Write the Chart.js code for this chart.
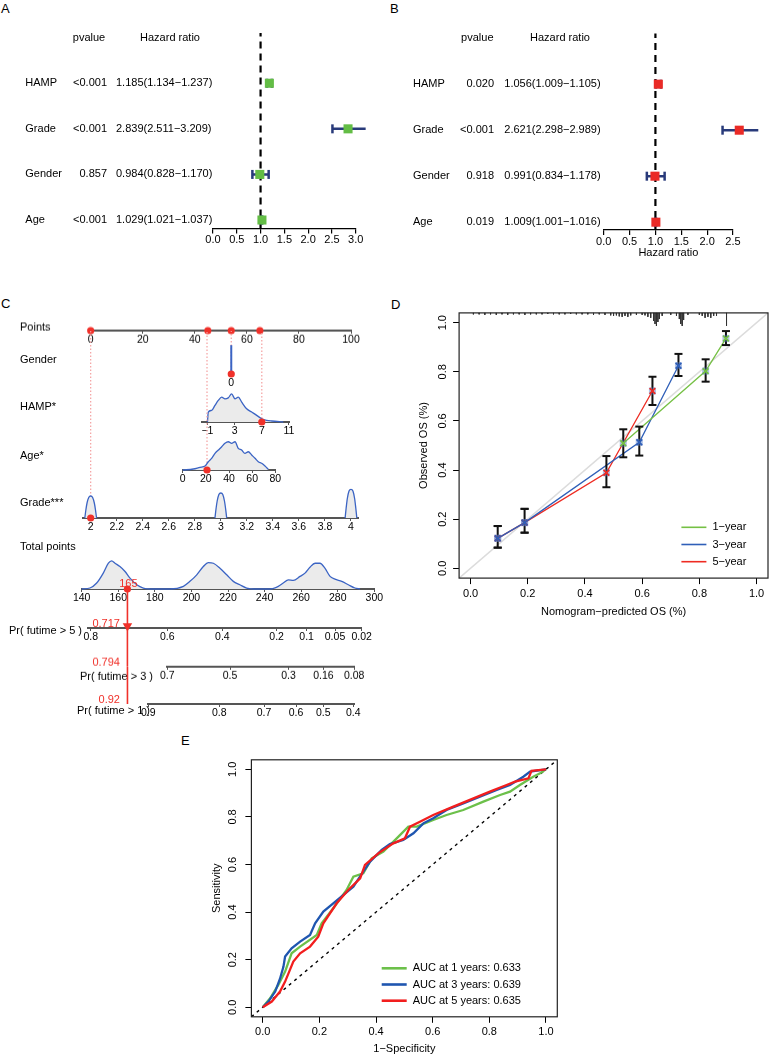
<!DOCTYPE html>
<html>
<head>
<meta charset="utf-8">
<script src="https://cdn.jsdelivr.net/npm/chart.js@4.4.1/dist/chart.umd.min.js"></script>
<style>
  html, body { margin: 0; background: #fff; }
  #fig { position: relative; width: 774px; height: 1056px; overflow: hidden; font-family: 'Liberation Sans', Arial, sans-serif; }
  #fig canvas { position: absolute; }
  .tag { position: absolute; font-size: 13px; line-height: 1; }
</style>
</head>
<body>
<div id="fig">
  <div class="tag" style="left:1px;top:2px">A</div>
  <div class="tag" style="left:390px;top:2px">B</div>
  <div class="tag" style="left:1px;top:297px">C</div>
  <div class="tag" style="left:391px;top:298px">D</div>
  <div class="tag" style="left:181px;top:734px">E</div>
</div>
<script>
// ---------- data ----------
// A: univariate Cox
const forestVars = ['HAMP', 'Grade', 'Gender', 'Age'];
const uniP = ['<0.001', '<0.001', '0.857', '<0.001'];
const uniHR = [1.185, 2.839, 0.984, 1.029];
const uniLow = [1.134, 2.511, 0.828, 1.021];
const uniHigh = [1.237, 3.209, 1.170, 1.037];
const uniTicks = [0, 0.5, 1, 1.5, 2, 2.5, 3];
// B: multivariate Cox
const multiP = ['0.020', '<0.001', '0.918', '0.019'];
const multiHR = [1.056, 2.621, 0.991, 1.009];
const multiLow = [1.009, 2.298, 0.834, 1.001];
const multiHigh = [1.105, 2.989, 1.178, 1.016];
const multiTicks = [0, 0.5, 1, 1.5, 2, 2.5];

// C: nomogram
const pointsTicks = [0, 20, 40, 60, 80, 100];
const patientPoints = [0, 45, 54, 65];      // Grade, Age, Gender, HAMP of the example patient
const genderPoints = 54;
const genderLevels = ['0'];
const genderSpike = 29;
const hampTicks = [-1, 3, 7, 11];
const hampDensX = [-1, -0.88, -0.38, 0.1, 0.59, 1.09, 1.58, 2.06, 2.56, 3.05, 3.54, 4.04, 4.77, 5.51, 6.25, 6.98, 7.72, 8.45, 10.16];
const hampDensY = [0, 10, 11.7, 16.7, 21.7, 25, 23.3, 24.3, 28.3, 23.3, 25, 20, 13.3, 10, 6.7, 3.3, 1.7, 1, 0];
const hampPatient = 7;
const ageTicks = [0, 20, 40, 60, 80];
const ageDensX = [0, 9.2, 14.9, 19.3, 22.1, 25, 27.9, 30.8, 33.7, 36.5, 39.4, 42.3, 45.2, 48, 50.9, 53.8, 56.7, 59.6, 62.5, 65.3, 68.2, 71.1, 74];
const ageDensY = [0, 1, 2.7, 4, 8.3, 11.7, 16.7, 20, 23.3, 26.7, 28.3, 26.7, 28.3, 21.7, 20, 16.7, 18.3, 15, 11.7, 8.3, 6.7, 4, 0.7];
const agePatient = 21;
const gradeTicks = [2, 2.2, 2.4, 2.6, 2.8, 3, 3.2, 3.4, 3.6, 3.8, 4];
const gradeDensX = [1.955, 1.963, 1.972, 1.985, 2, 2.015, 2.028, 2.037, 2.045, 2.5,
                    2.955, 2.963, 2.972, 2.985, 3, 3.015, 3.028, 3.037, 3.045, 3.5,
                    3.955, 3.963, 3.972, 3.985, 4, 4.015, 4.028, 4.037, 4.045];
const gradeDensY = [0, 8, 15, 20.5, 22, 20.5, 15, 8, 0, null,
                    0, 9, 17, 23.5, 25, 23.5, 17, 9, 0, null,
                    0, 10, 19.5, 27, 28.7, 27, 19.5, 10, 0];
const gradePatient = 2;
const totalTicks = [140, 160, 180, 200, 220, 240, 260, 280, 300];
const totalDensX = [140, 144.5, 148.2, 151.8, 154.6, 156.4, 158.2, 160.9, 163.7, 166.4, 170.1, 173.7, 179.2, 188.3,
                    195.6, 199.2, 202.9, 206.5, 209.2, 212, 215.6, 219.3, 222.9, 226.5, 230.2, 235.7, 243,
                    247.5, 250.2, 253, 255.7, 259.4, 262.1, 264.8, 267.6, 270.3, 273, 275.8, 278.5, 282.2, 285.8, 289.4, 292.2];
const totalDensY = [0, 1, 6, 16, 26, 28.3, 26, 22.7, 17.7, 11, 4.3, 1, 0, 0,
                    2.7, 7.7, 14.3, 22.7, 26.7, 26, 21, 14.3, 7.7, 4.3, 1, 0, 0,
                    2.7, 6, 9.3, 8.7, 12.7, 16, 22, 26, 26, 21, 12.7, 10, 7.7, 4.3, 1, 0];
const totalPatient = 165;
// survival probability scales, tick positions in total points
const pr5Ticks = [144.9, 186.8, 216.9, 246.6, 263, 278.5, 293.1];
const pr5Labels = ['0.8', '0.6', '0.4', '0.2', '0.1', '0.05', '0.02'];
const pr3Ticks = [186.8, 221.1, 253, 272.1, 288.9];
const pr3Labels = ['0.7', '0.5', '0.3', '0.16', '0.08'];
const pr1Ticks = [176.4, 215.2, 239.7, 257.2, 272.1, 288.5];
const pr1Labels = ['0.9', '0.8', '0.7', '0.6', '0.5', '0.4'];
const survPred = ['0.717', '0.794', '0.92'];   // 5, 3, 1 year

// D: calibration
const calTicks = [0, 0.2, 0.4, 0.6, 0.8, 1];
const cal1X = [0.534, 0.822, 0.893];
const cal1Y = [0.509, 0.803, 0.936];
const cal1Lo = [0.452, 0.76, 0.909];
const cal1Hi = [0.566, 0.851, 0.966];
const cal3X = [0.095, 0.189, 0.59, 0.727];
const cal3Y = [0.122, 0.186, 0.513, 0.825];
const cal3Lo = [0.084, 0.145, 0.459, 0.783];
const cal3Hi = [0.172, 0.242, 0.577, 0.873];
const cal5X = [0.095, 0.189, 0.475, 0.636];
const cal5Y = [0.122, 0.186, 0.389, 0.722];
const cal5Lo = [0.084, 0.145, 0.33, 0.665];
const cal5Hi = [0.172, 0.242, 0.457, 0.78];
const rugX = [0.01, 0.03, 0.05, 0.07, 0.09, 0.11, 0.13, 0.15, 0.17, 0.19, 0.21, 0.23, 0.25, 0.27, 0.29, 0.31, 0.33, 0.35, 0.37, 0.39, 0.41, 0.43, 0.45, 0.47, 0.49,
              0.5, 0.51, 0.52, 0.53, 0.54, 0.55, 0.56,
              0.58, 0.6, 0.61, 0.62, 0.63, 0.64, 0.645, 0.65, 0.655, 0.66, 0.67,
              0.7, 0.72, 0.73, 0.735, 0.74, 0.745, 0.76,
              0.8, 0.81, 0.82, 0.83, 0.84, 0.85, 0.86, 0.895];
const rugH = [0.006, 0.006, 0.008, 0.006, 0.008, 0.006, 0.008, 0.006, 0.006, 0.008, 0.006, 0.006, 0.006, 0.004, 0.006, 0.006, 0.006, 0.004, 0.006, 0.006, 0.006, 0.008, 0.006, 0.008, 0.010,
              0.012, 0.010, 0.014, 0.016, 0.012, 0.016, 0.010,
              0.008, 0.008, 0.010, 0.016, 0.020, 0.033, 0.045, 0.053, 0.037, 0.025, 0.012,
              0.008, 0.012, 0.025, 0.045, 0.053, 0.029, 0.008,
              0.008, 0.012, 0.020, 0.016, 0.020, 0.012, 0.012, 0.053];

// E: time-dependent ROC
const rocTicks = [0, 0.2, 0.4, 0.6, 0.8, 1];
const roc1Fpr = [0, 0.026, 0.055, 0.079, 0.102, 0.132, 0.191, 0.208, 0.249, 0.296, 0.32, 0.355, 0.385, 0.426, 0.473, 0.514, 0.544, 0.602, 0.649, 0.708, 0.779, 0.838, 0.873, 0.908, 0.955, 0.979, 1];
const roc1Tpr = [0, 0.038, 0.094, 0.15, 0.227, 0.255, 0.304, 0.353, 0.416, 0.493, 0.549, 0.563, 0.626, 0.654, 0.71, 0.759, 0.759, 0.787, 0.808, 0.829, 0.864, 0.892, 0.906, 0.934, 0.969, 0.983, 1];
const roc3Fpr = [0, 0.02, 0.044, 0.061, 0.073, 0.079, 0.102, 0.132, 0.167, 0.185, 0.214, 0.249, 0.285, 0.32, 0.355, 0.379, 0.42, 0.449, 0.496, 0.532, 0.567, 0.602, 0.649, 0.708, 0.767, 0.826, 0.873, 0.92, 0.944, 1];
const roc3Tpr = [0, 0.024, 0.066, 0.12, 0.17, 0.213, 0.248, 0.276, 0.304, 0.353, 0.402, 0.437, 0.472, 0.507, 0.57, 0.612, 0.661, 0.686, 0.703, 0.731, 0.773, 0.794, 0.829, 0.857, 0.885, 0.913, 0.934, 0.969, 0.99, 1];
const roc5Fpr = [0, 0.032, 0.061, 0.079, 0.096, 0.108, 0.132, 0.167, 0.196, 0.214, 0.261, 0.302, 0.344, 0.361, 0.408, 0.461, 0.502, 0.52, 0.555, 0.602, 0.673, 0.744, 0.802, 0.861, 0.891, 0.938, 0.949, 1];
const roc5Tpr = [0, 0.024, 0.066, 0.108, 0.157, 0.192, 0.227, 0.255, 0.297, 0.353, 0.437, 0.493, 0.542, 0.598, 0.647, 0.689, 0.71, 0.759, 0.78, 0.808, 0.843, 0.878, 0.906, 0.934, 0.948, 0.962, 0.994, 1];
const rocAUC = ['0.633', '0.639', '0.635'];

// ---------- helpers ----------
const FONT = "'Liberation Sans', Arial, sans-serif";
Chart.defaults.font.family = FONT;
Chart.defaults.font.size = 11;
Chart.defaults.color = '#000';

const NAVY = '#283a7a';
const RED = '#f0312a';
const BLUE = '#3b64c4';

const baseOptions = {
  responsive: false,
  animation: false,
  events: [],
  plugins: { legend: { display: false }, tooltip: { enabled: false } }
};

function addCanvas(x, y, w, h) {
  const c = document.createElement('canvas');
  c.width = w; c.height = h;
  c.style.left = x + 'px'; c.style.top = y + 'px';
  c.style.width = w + 'px'; c.style.height = h + 'px';
  document.getElementById('fig').appendChild(c);
  return c;
}

const pts = (xs, ys) => xs.map((x, i) => ({ x: x, y: ys[i] }));

// text drawn at canvas px or at data values through the chart scales
function textLayer(items) {
  return {
    id: 'textLayer',
    afterDraw(chart) {
      const ctx = chart.ctx;
      ctx.save();
      ctx.textBaseline = 'middle';
      items.forEach(t => {
        ctx.font = (t.size || 11) + 'px ' + FONT;
        ctx.fillStyle = t.color || '#000';
        ctx.textAlign = t.align || 'left';
        const x = t.xv !== undefined ? chart.scales.x.getPixelForValue(t.xv) + (t.dx || 0) : t.x;
        const y = t.yv !== undefined ? chart.scales.y.getPixelForValue(t.yv) + (t.dy || 0) : t.y;
        ctx.fillText(t.text, x, y);
      });
      ctx.restore();
    }
  };
}

// frame around plot region + line legend (R style)
function boxLegend(items, o) {
  return {
    id: 'boxLegend',
    afterDraw(chart) {
      const { ctx, chartArea: a } = chart;
      ctx.save();
      ctx.strokeStyle = '#222';
      ctx.lineWidth = 1.2;
      ctx.strokeRect(a.left, a.top, a.right - a.left, a.bottom - a.top);
      ctx.font = '11px ' + FONT;
      ctx.textAlign = 'left';
      ctx.textBaseline = 'middle';
      items.forEach((it, i) => {
        const y = a.bottom - o.fromBottom + i * o.gap;
        const x0 = a.right - o.fromRight;
        ctx.strokeStyle = it.color;
        ctx.lineWidth = o.lw;
        ctx.beginPath(); ctx.moveTo(x0, y); ctx.lineTo(x0 + 25, y); ctx.stroke();
        ctx.fillStyle = '#000';
        ctx.fillText(it.text, x0 + 31, y);
      });
      ctx.restore();
    }
  };
}

const fmtHR = (h, l, u) => h.toFixed(3) + '(' + l.toFixed(3) + '\u2212' + u.toFixed(3) + ')';

// ---------- A / B forest plots ----------
function forest(o) {
  const rows = forestVars.map((v, i) => forestVars.length - i);
  const whisker = [], caps = [], boxes = [];
  rows.forEach((r, i) => {
    whisker.push({ x: o.low[i], y: r }, { x: o.high[i], y: r }, { x: o.high[i], y: null });
    caps.push({ x: o.low[i], y: r }, { x: o.high[i], y: r });
    boxes.push({ x: o.hr[i], y: r });
  });
  const texts = [
    { text: 'pvalue', x: o.pHead, yv: 5, align: 'center' },
    { text: 'Hazard ratio', x: o.hrHead, yv: 5, align: 'center' }
  ];
  rows.forEach((r, i) => {
    texts.push({ text: forestVars[i], x: o.nameX, yv: r });
    texts.push({ text: o.p[i], x: o.pX, yv: r, align: 'right' });
    texts.push({ text: fmtHR(o.hr[i], o.low[i], o.high[i]), x: o.hrX, yv: r });
  });
  const canvas = addCanvas(o.x, 0, o.w, o.h);
  return new Chart(canvas, {
    type: 'scatter',
    data: {
      datasets: [
        { data: boxes, pointStyle: 'rect', pointRadius: 6.4, backgroundColor: o.color, borderWidth: 0, clip: false },
        { data: caps, pointStyle: 'line', rotation: 90, pointRadius: 4.5, borderColor: NAVY, borderWidth: 2.5, clip: false },
        { data: whisker, showLine: true, pointRadius: 0, borderColor: NAVY, borderWidth: 2.5, clip: false },
        { data: [{ x: 1, y: o.yMin }, { x: 1, y: o.yMax }], showLine: true, pointRadius: 0,
          borderColor: '#000', borderWidth: 2.2, borderDash: [7, 5], clip: false }
      ]
    },
    options: Object.assign({}, baseOptions, {
      layout: { padding: o.pad },
      scales: {
        x: {
          type: 'linear', min: 0, max: o.ticks[o.ticks.length - 1],
          afterBuildTicks: s => { s.ticks = o.ticks.map(v => ({ value: v })); },
          afterFit: s => { s.height = o.xH; },
          ticks: { autoSkip: false, maxRotation: 0, padding: 0, callback: v => v.toFixed(1) },
          grid: { drawOnChartArea: false, tickLength: 5, color: '#000', lineWidth: 1.2 },
          border: { color: '#000', width: 1.2 },
          title: { display: !!o.xTitle, text: o.xTitle || '', padding: { top: 0, bottom: 0 } }
        },
        y: { display: false, min: o.yMin, max: o.yMax }
      }
    }),
    plugins: [textLayer(texts)]
  });
}

forest({
  x: 0, w: 385, h: 260, xH: 20,
  pad: { left: 213, right: 29.3, top: 33.1, bottom: 11.5 },
  yMin: 0.814, yMax: 5.1, ticks: uniTicks,
  hr: uniHR, low: uniLow, high: uniHigh, p: uniP, color: '#63bd45',
  nameX: 25.3, pX: 107, hrX: 116, pHead: 89, hrHead: 170
});

forest({
  x: 385, w: 389, h: 270, xH: 30, xTitle: 'Hazard ratio',
  pad: { left: 218.7, right: 41, top: 33.6, bottom: 10 },
  yMin: 0.83, yMax: 5.1, ticks: multiTicks,
  hr: multiHR, low: multiLow, high: multiHigh, p: multiP, color: '#ea2a26',
  nameX: 28, pX: 109, hrX: 119.3, pHead: 92.3, hrHead: 175
});

// ---------- C nomogram ----------
const NOMO_W = 385;
function nomoRow(o) {
  const padTop = 16, axisH = 18, padBottom = 2;
  const top = o.topY - padTop;
  const h = (o.axisY - o.topY) + padTop + axisH + padBottom;
  const canvas = addCanvas(0, top, NOMO_W, h);
  const texts = (o.texts || []).map(t => Object.assign({}, t, t.y !== undefined ? { y: t.y - top } : {}));
  o.datasets.forEach(d => { d.clip = false; });
  return new Chart(canvas, {
    type: 'scatter',
    data: { datasets: o.datasets },
    options: Object.assign({}, baseOptions, {
      layout: { padding: { left: o.left, right: NOMO_W - o.right, top: padTop, bottom: padBottom } },
      scales: {
        x: {
          type: 'linear', min: o.min, max: o.max,
          afterBuildTicks: s => { s.ticks = o.ticks.map(v => ({ value: v })); },
          afterFit: s => { s.height = axisH; },
          ticks: { autoSkip: false, maxRotation: 0, padding: 0, font: { size: 10.5 },
                   callback: (v, i) => o.labels[i] },
          grid: { drawOnChartArea: false, tickLength: 3, color: o.border === false ? 'rgba(0,0,0,0)' : '#555', lineWidth: 1 },
          border: { display: o.border !== false, color: '#555', width: 2 }
        },
        y: { display: false, min: 0, max: o.axisY - o.topY }
      }
    }),
    plugins: [textLayer(texts)]
  });
}

const redDots = xs => ({ data: xs.map(x => ({ x: x, y: 0 })), pointRadius: 3.6, backgroundColor: RED, borderWidth: 0 });
const dotted = (x, yTop) => ({ data: [{ x: x, y: 0 }, { x: x, y: yTop }], showLine: true, pointRadius: 0,
                               borderColor: '#f4a0a0', borderWidth: 1.2, borderDash: [1.5, 2] });
const density = (xs, ys) => ({ data: pts(xs, ys), showLine: true, pointRadius: 0, borderColor: BLUE, borderWidth: 1.3,
                               fill: 'origin', backgroundColor: '#ebebeb', cubicInterpolationMode: 'monotone' });
const arrow = (x, yTop) => [
  { data: [{ x: x, y: 2 }], pointStyle: 'triangle', rotation: 180, pointRadius: 5.5, backgroundColor: RED, borderWidth: 0 },
  { data: [{ x: x, y: 0 }, { x: x, y: yTop }], showLine: true, pointRadius: 0, borderColor: RED, borderWidth: 1.6 }
];

// Points
nomoRow({ left: 90.7, right: 351, axisY: 330.7, topY: 318, min: 0, max: 100,
  ticks: pointsTicks, labels: pointsTicks.map(String),
  datasets: [redDots(patientPoints)],
  texts: [{ text: 'Points', x: 20, y: 327 }] });

// Gender
nomoRow({ left: 90.7, right: 351, axisY: 374, topY: 330.7, min: 0, max: 100, border: false,
  ticks: [genderPoints], labels: genderLevels,
  datasets: [redDots([genderPoints]),
    { data: [{ x: genderPoints, y: 0 }, { x: genderPoints, y: genderSpike }], showLine: true, pointRadius: 0,
      borderColor: BLUE, borderWidth: 2 },
    dotted(genderPoints, 374 - 330.7)],
  texts: [{ text: 'Gender', x: 20, y: 359.3 }] });

// HAMP*
nomoRow({ left: 201.7, right: 289.3, axisY: 422.3, topY: 330.7, min: -1.85, max: 11.05,
  ticks: hampTicks, labels: hampTicks.map(v => v < 0 ? '\u2212' + Math.abs(v) : String(v)),
  datasets: [redDots([hampPatient]), density(hampDensX, hampDensY), dotted(hampPatient, 422.3 - 330.7)],
  texts: [{ text: 'HAMP*', x: 20, y: 406.7 }] });

// Age*
nomoRow({ left: 182.7, right: 275.3, axisY: 470, topY: 330.7, min: 0, max: 80,
  ticks: ageTicks, labels: ageTicks.map(String),
  datasets: [redDots([agePatient]), density(ageDensX, ageDensY), dotted(agePatient, 470 - 330.7)],
  texts: [{ text: 'Age*', x: 20, y: 455.7 }] });

// Grade***
nomoRow({ left: 83, right: 358, axisY: 517.7, topY: 330.7, min: 1.941, max: 4.054,
  ticks: gradeTicks, labels: gradeTicks.map(v => String(v)),
  datasets: [redDots([gradePatient]), density(gradeDensX, gradeDensY), dotted(gradePatient, 517.7 - 330.7)],
  texts: [{ text: 'Grade***', x: 20, y: 502.3 }] });

// Total points
nomoRow({ left: 81.7, right: 374.3, axisY: 589.3, topY: 555, min: 140, max: 300,
  ticks: totalTicks, labels: totalTicks.map(String),
  datasets: [redDots([totalPatient]), density(totalDensX, totalDensY)],
  texts: [{ text: 'Total points', x: 20, y: 546.7 },
          { text: String(totalPatient), xv: totalPatient, dx: 1, yv: 0, dy: -5, align: 'center', color: RED }] });

// survival probabilities
const prRows = [
  { name: 'Pr( futime > 5 )', nameX: 82, nameY: 631.7, left: 88.3, right: 361.7, axisY: 628.3, topY: 589.3, min: 143.6, max: 293.1, ticks: pr5Ticks, labels: pr5Labels },
  { name: 'Pr( futime > 3 )', nameX: 153, nameY: 676, left: 167.3, right: 354.3, axisY: 666.7, topY: 628.3, min: 186.8, max: 289, ticks: pr3Ticks, labels: pr3Labels },
  { name: 'Pr( futime > 1 )', nameX: 150, nameY: 711, left: 148.3, right: 354, axisY: 704.3, topY: 666.7, min: 176.4, max: 288.9, ticks: pr1Ticks, labels: pr1Labels }
];
prRows.forEach((r, i) => {
  nomoRow({ left: r.left, right: r.right, axisY: r.axisY, topY: r.topY, min: r.min, max: r.max,
    ticks: r.ticks, labels: r.labels,
    datasets: arrow(totalPatient, r.axisY - r.topY),
    texts: [{ text: r.name, x: r.nameX, y: r.nameY, align: 'right' },
            { text: survPred[i], xv: totalPatient, dx: -7.5, yv: 0, dy: -4.5, align: 'right', color: RED }] });
});

// ---------- D calibration ----------
function boxScales(o) {
  return {
    x: {
      type: 'linear', min: -0.04, max: 1.04,
      afterBuildTicks: s => { s.ticks = o.ticks.map(v => ({ value: v })); },
      afterFit: s => { s.height = o.xH; },
      ticks: { autoSkip: false, maxRotation: 0, padding: 3, callback: v => v.toFixed(1) },
      grid: { drawOnChartArea: false, tickLength: 6, color: '#000' },
      border: { display: false },
      title: { display: true, text: o.xTitle, padding: { top: 0, bottom: 0 } }
    },
    y: {
      type: 'linear', min: -0.04, max: 1.04,
      afterBuildTicks: s => { s.ticks = o.ticks.map(v => ({ value: v })); },
      afterFit: s => { s.width = o.yW; },
      ticks: { autoSkip: false, minRotation: 90, maxRotation: 90, crossAlign: 'center', padding: o.yPad,
               callback: v => v.toFixed(1) },
      grid: { drawOnChartArea: false, tickLength: 6, color: '#000' },
      border: { display: false },
      title: { display: true, text: o.yTitle, padding: { top: o.yTitlePad, bottom: 0 } }
    }
  };
}

const calSeries = [
  { name: '1\u2212year', color: '#75c044', x: cal1X, y: cal1Y, lo: cal1Lo, hi: cal1Hi },
  { name: '3\u2212year', color: '#2f5fb8', x: cal3X, y: cal3Y, lo: cal3Lo, hi: cal3Hi },
  { name: '5\u2212year', color: '#ee2b22', x: cal5X, y: cal5Y, lo: cal5Lo, hi: cal5Hi }
];
const errLines = [], errCaps = [], allPts = [];
calSeries.forEach(s => s.x.forEach((x, i) => {
  errLines.push({ x: x, y: s.lo[i] }, { x: x, y: s.hi[i] }, { x: x, y: null });
  errCaps.push({ x: x, y: s.lo[i] }, { x: x, y: s.hi[i] });
  allPts.push({ x: x, y: s.y[i] });
}));
const rug = [];
rugX.forEach((x, i) => { rug.push({ x: x, y: 1.04 }, { x: x, y: 1.04 - rugH[i] }, { x: x, y: null }); });

const calDatasets = [];
calSeries.forEach(s => calDatasets.push({ data: pts(s.x, s.y), pointStyle: 'crossRot', pointRadius: 4,
  borderColor: s.color, borderWidth: 1.8, backgroundColor: s.color }));
calDatasets.push(
  { data: allPts, pointStyle: 'rect', pointRadius: 5, backgroundColor: 'rgba(80,120,200,0.45)', borderWidth: 0 },
  { data: errCaps, pointStyle: 'line', pointRadius: 4, borderColor: '#111', borderWidth: 2 },
  { data: errLines, showLine: true, pointRadius: 0, borderColor: '#111', borderWidth: 2 }
);
calSeries.forEach(s => calDatasets.push({ data: pts(s.x, s.y), showLine: true, pointRadius: 0,
  borderColor: s.color, borderWidth: 1.3 }));
calDatasets.push(
  { data: [{ x: -0.04, y: -0.04 }, { x: 1.04, y: 1.04 }], showLine: true, pointRadius: 0, borderColor: '#dcdcdc', borderWidth: 1.4 },
  { data: rug, showLine: true, pointRadius: 0, borderColor: '#333', borderWidth: 1 }
);
calDatasets.forEach(d => { d.clip = false; });

new Chart(addCanvas(385, 290, 389, 329), {
  type: 'scatter',
  data: { datasets: calDatasets },
  options: Object.assign({}, baseOptions, {
    layout: { padding: { left: 0, right: 0.7, top: 22.9, bottom: 0.4 } },
    scales: boxScales({ ticks: calTicks, xH: 40.5, yW: 74.1, yPad: 2.2, yTitlePad: 32.7,
      xTitle: 'Nomogram\u2212predicted OS (%)', yTitle: 'Observed OS (%)' })
  }),
  plugins: [boxLegend(calSeries.map(s => ({ text: s.name, color: s.color })),
    { fromRight: 86.6, fromBottom: 50.8, gap: 17.2, lw: 1.6 })]
});

// ---------- E ROC ----------
const rocSeries = [
  { years: 1, color: '#6cc04a', fpr: roc1Fpr, tpr: roc1Tpr, auc: rocAUC[0] },
  { years: 3, color: '#1f56b0', fpr: roc3Fpr, tpr: roc3Tpr, auc: rocAUC[1] },
  { years: 5, color: '#f21e1e', fpr: roc5Fpr, tpr: roc5Tpr, auc: rocAUC[2] }
];
const rocDatasets = rocSeries.slice().reverse().map(s => ({ data: pts(s.fpr, s.tpr), showLine: true, pointRadius: 0,
  borderColor: s.color, borderWidth: 2.3 }));
rocDatasets.push({ data: [{ x: -0.04, y: -0.04 }, { x: 1.04, y: 1.04 }], showLine: true, pointRadius: 0,
  borderColor: '#000', borderWidth: 1.4, borderDash: [3, 4] });

new Chart(addCanvas(185, 745, 385, 311), {
  type: 'scatter',
  data: { datasets: rocDatasets },
  options: Object.assign({}, baseOptions, {
    layout: { padding: { left: 0, right: 12.7, top: 14.8, bottom: 0.4 } },
    scales: boxScales({ ticks: rocTicks, xH: 38.8, yW: 66.4, yPad: 4.4, yTitlePad: 25.1,
      xTitle: '1\u2212Specificity', yTitle: 'Sensitivity' })
  }),
  plugins: [boxLegend(rocSeries.map(s => ({ text: 'AUC at ' + s.years + ' years: ' + s.auc, color: s.color })),
    { fromRight: 175.6, fromBottom: 48.5, gap: 16.2, lw: 2.6 })]
});
</script>
</body>
</html>
